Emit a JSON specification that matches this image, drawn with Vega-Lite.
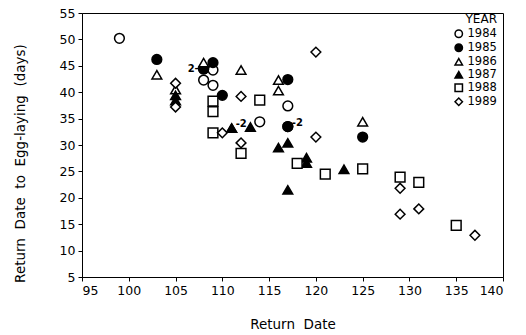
{
  "$schema": "https://vega.github.io/schema/vega-lite/v6.json",
  "width": 421,
  "height": 264,
  "autosize": {"type": "none"},
  "padding": {"left": 82, "top": 13, "right": 23, "bottom": 58},
  "background": "white",
  "config": {
    "view": {"stroke": "black", "strokeWidth": 1},
    "font": "DejaVu Sans",
    "axis": {
      "grid": false,
      "domainColor": "black",
      "tickColor": "black",
      "labelColor": "black",
      "titleColor": "black",
      "labelFontSize": 12.5,
      "titleFontSize": 13.5,
      "titleFontWeight": "normal",
      "tickSize": 4,
      "labelPadding": 3,
      "labelOverlap": false
    },
    "legend": {
      "labelFontSize": 11.5,
      "titleFontSize": 12,
      "titleFontWeight": "normal",
      "labelColor": "black",
      "titleColor": "black",
      "padding": 0
    }
  },
  "encoding": {
    "x": {
      "field": "date", "type": "quantitative",
      "scale": {"domain": [95, 140], "nice": false, "zero": false},
      "axis": {"values": [95, 100, 105, 110, 115, 120, 125, 130, 135, 140], "title": "Return\u00a0 Date", "titleY": 40, "labelOverlap": false}
    },
    "y": {
      "field": "days", "type": "quantitative",
      "scale": {"domain": [5, 55], "nice": false, "zero": false},
      "axis": {"values": [5, 10, 15, 20, 25, 30, 35, 40, 45, 50, 55], "title": "Return\u00a0 Date\u00a0 to\u00a0 Egg-laying\u00a0 (days)", "titleX": -55, "titleY": 150, "labelOverlap": false}
    }
  },
  "layer": [
    {
      "data": {
        "values": [
          {"date": 99, "days": 50.2, "year": "1984"},
          {"date": 109, "days": 44.2, "year": "1984"},
          {"date": 108, "days": 42.3, "year": "1984"},
          {"date": 109, "days": 41.3, "year": "1984"},
          {"date": 117, "days": 37.4, "year": "1984"},
          {"date": 114, "days": 34.4, "year": "1984"},
          {"date": 103, "days": 46.2, "year": "1985"},
          {"date": 109, "days": 45.6, "year": "1985"},
          {"date": 108, "days": 44.4, "year": "1985"},
          {"date": 108, "days": 44.4, "year": "1985"},
          {"date": 110, "days": 39.4, "year": "1985"},
          {"date": 117, "days": 42.4, "year": "1985"},
          {"date": 117, "days": 33.5, "year": "1985"},
          {"date": 117, "days": 33.5, "year": "1985"},
          {"date": 125, "days": 31.5, "year": "1985"},
          {"date": 103, "days": 43.3, "year": "1986"},
          {"date": 108, "days": 45.6, "year": "1986"},
          {"date": 105, "days": 40.5, "year": "1986"},
          {"date": 112, "days": 44.2, "year": "1986"},
          {"date": 116, "days": 42.3, "year": "1986"},
          {"date": 116, "days": 40.3, "year": "1986"},
          {"date": 125, "days": 34.4, "year": "1986"},
          {"date": 105, "days": 39.4, "year": "1987"},
          {"date": 105, "days": 38.4, "year": "1987"},
          {"date": 111, "days": 33.2, "year": "1987"},
          {"date": 111, "days": 33.2, "year": "1987"},
          {"date": 113, "days": 33.4, "year": "1987"},
          {"date": 116, "days": 29.5, "year": "1987"},
          {"date": 117, "days": 30.4, "year": "1987"},
          {"date": 119, "days": 27.6, "year": "1987"},
          {"date": 119, "days": 26.6, "year": "1987"},
          {"date": 123, "days": 25.4, "year": "1987"},
          {"date": 117, "days": 21.5, "year": "1987"},
          {"date": 109, "days": 38.3, "year": "1988"},
          {"date": 109, "days": 36.3, "year": "1988"},
          {"date": 109, "days": 32.3, "year": "1988"},
          {"date": 114, "days": 38.5, "year": "1988"},
          {"date": 112, "days": 28.4, "year": "1988"},
          {"date": 118, "days": 26.5, "year": "1988"},
          {"date": 121, "days": 24.5, "year": "1988"},
          {"date": 125, "days": 25.5, "year": "1988"},
          {"date": 129, "days": 23.9, "year": "1988"},
          {"date": 131, "days": 22.9, "year": "1988"},
          {"date": 135, "days": 14.8, "year": "1988"},
          {"date": 105, "days": 41.7, "year": "1989"},
          {"date": 105, "days": 37.2, "year": "1989"},
          {"date": 110, "days": 32.3, "year": "1989"},
          {"date": 112, "days": 39.2, "year": "1989"},
          {"date": 112, "days": 30.4, "year": "1989"},
          {"date": 120, "days": 47.6, "year": "1989"},
          {"date": 120, "days": 31.5, "year": "1989"},
          {"date": 129, "days": 21.8, "year": "1989"},
          {"date": 129, "days": 16.9, "year": "1989"},
          {"date": 131, "days": 17.9, "year": "1989"},
          {"date": 137, "days": 12.9, "year": "1989"}
        ]
      },
      "mark": {"type": "point", "filled": false, "stroke": "black", "strokeWidth": 1.5, "size": 95, "opacity": 1},
      "encoding": {
        "shape": {
          "field": "year", "type": "nominal",
          "scale": {"domain": ["1984", "1985", "1986", "1987", "1988", "1989"], "range": ["circle", "circle", "triangle-up", "triangle-up", "square", "diamond"]},
          "legend": {"title": "YEAR", "orient": "none", "legendX": 371, "legendY": 1, "titleAnchor": "end", "titlePadding": 2, "symbolSize": 55, "labelOffset": 3, "rowPadding": 0,
            "encode": {"symbols": {"update": {"stroke": {"value": "black"}, "strokeWidth": {"value": 1.5}}}}}
        },
        "fill": {
          "field": "year", "type": "nominal",
          "scale": {"domain": ["1984", "1985", "1986", "1987", "1988", "1989"], "range": ["white", "black", "white", "black", "white", "white"]},
          "legend": {"title": "YEAR", "orient": "none", "legendX": 371, "legendY": 1, "titleAnchor": "end", "titlePadding": 2, "symbolSize": 55, "labelOffset": 3, "rowPadding": 0,
            "encode": {"symbols": {"update": {"stroke": {"value": "black"}, "strokeWidth": {"value": 1.5}}}}}
        }
      }
    },
    {
      "data": {"values": [{"date": 108, "days": 44.4, "label": "2–"}]},
      "mark": {"type": "text", "align": "right", "baseline": "middle", "dx": -4, "fontSize": 10, "fontWeight": "bold", "color": "black"},
      "encoding": {
        "text": {"field": "label"}
      }
    },
    {
      "data": {"values": [{"date": 111, "days": 33.2, "label": "‐2"}, {"date": 117, "days": 33.5, "label": "‐2"}]},
      "mark": {"type": "text", "align": "left", "baseline": "middle", "dx": 4, "dy": -4, "fontSize": 10, "fontWeight": "bold", "color": "black"},
      "encoding": {
        "text": {"field": "label"}
      }
    }
  ]
}
